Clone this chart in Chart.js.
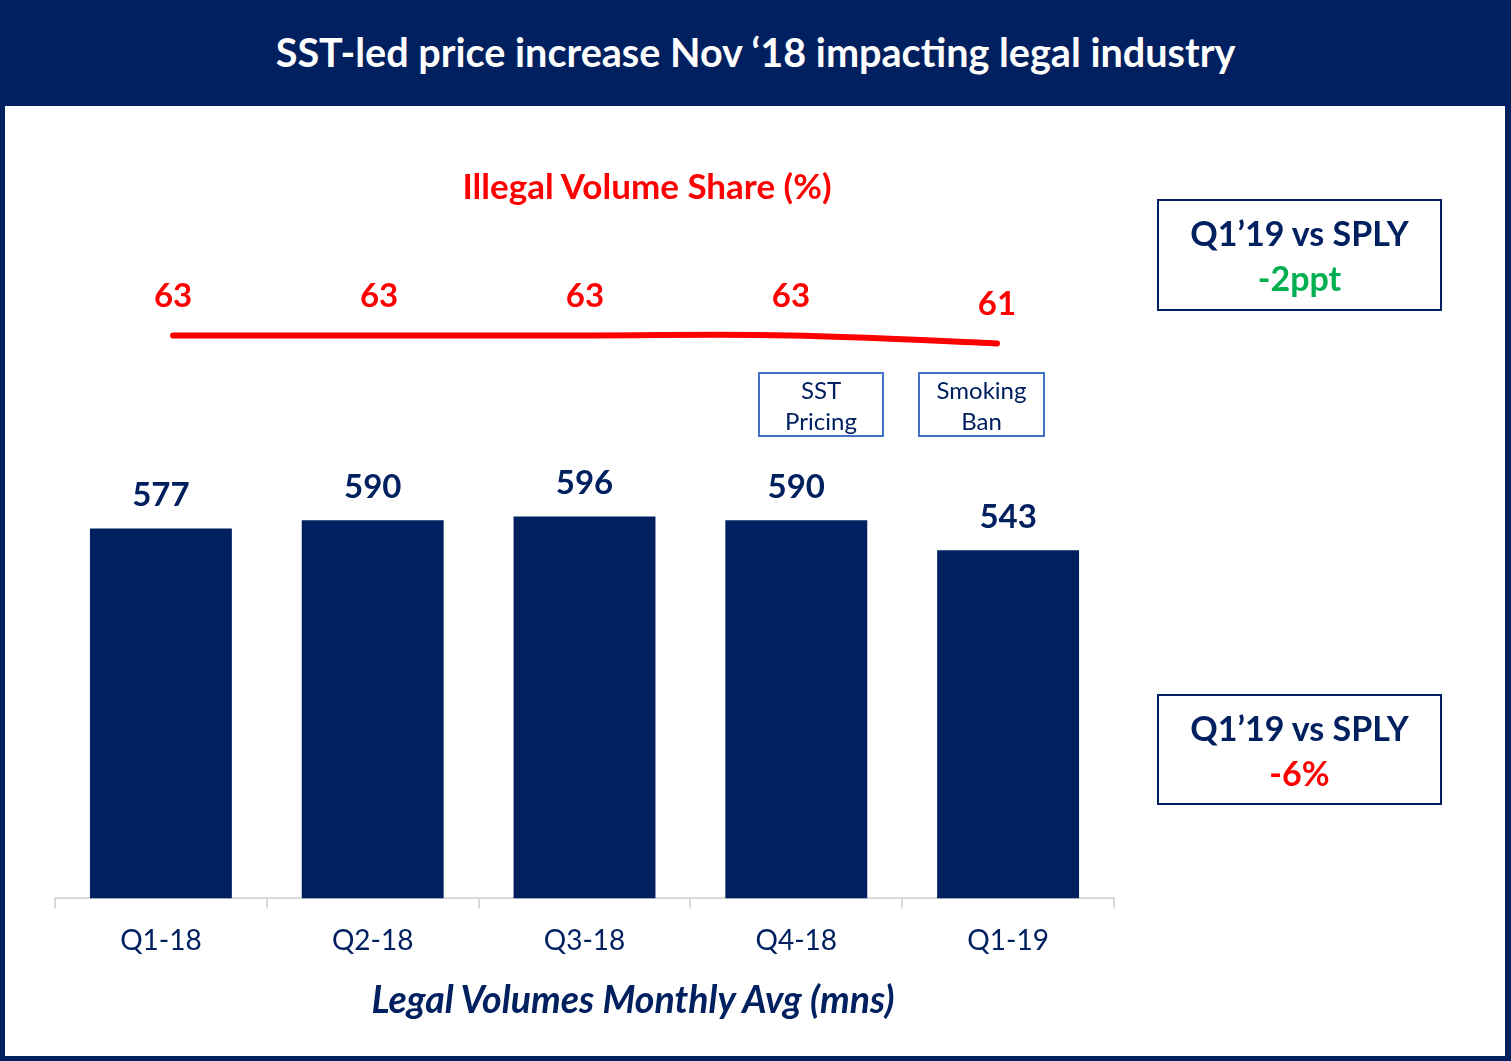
<!DOCTYPE html>
<html><head><meta charset="utf-8">
<script src="https://cdn.jsdelivr.net/npm/chart.js@4/dist/chart.umd.min.js"></script>
<style>
html,body{margin:0;padding:0;}
body{width:1511px;height:1061px;background:#002060;position:relative;overflow:hidden;font-family:Lato,"Open Sans",sans-serif;}
#banner{position:absolute;left:0;top:0;width:1511px;height:106px;color:#fff;font-weight:bold;font-size:39.6px;text-align:center;line-height:104px;}
#panel{position:absolute;left:5px;top:106px;width:1500px;height:950px;background:#fff;}
canvas{position:absolute;left:0;top:0;}
.t{position:absolute;white-space:nowrap;transform:translate(-50%,-50%);}
.box{position:absolute;box-sizing:border-box;text-align:center;}
</style></head>
<body>
<div id="banner">SST-led price increase Nov ‘18 impacting legal industry</div>
<div id="panel"></div>
<canvas id="c" width="1511" height="1061"></canvas>
<div class="t" style="left:647px;top:185px;color:#ff0000;font-weight:bold;font-size:35px;">Illegal Volume Share (%)</div>
<div class="t" style="left:633px;top:998px;color:#002060;font-weight:bold;font-style:italic;font-size:37.5px;">Legal Volumes Monthly Avg (mns)</div>
<div class="box" style="left:758px;top:372px;width:126px;height:65px;border:2px solid #4472c4;color:#002060;font-size:24px;line-height:31px;">SST<br>Pricing</div>
<div class="box" style="left:918px;top:372px;width:127px;height:65px;border:2px solid #4472c4;color:#002060;font-size:24px;line-height:31px;">Smoking<br>Ban</div>
<div class="box" style="left:1157px;top:199px;width:285px;height:112px;border:2px solid #002060;font-weight:bold;font-size:34px;line-height:45px;padding-top:9px;"><span style="color:#002060">Q1’19 vs SPLY</span><br><span style="color:#00b050">-2ppt</span></div>
<div class="box" style="left:1157px;top:694px;width:285px;height:111px;border:2px solid #002060;font-weight:bold;font-size:34px;line-height:45px;padding-top:9px;"><span style="color:#002060">Q1’19 vs SPLY</span><br><span style="color:#ff0000">-6%</span></div>
<script>
const categories = ["Q1-18","Q2-18","Q3-18","Q4-18","Q1-19"];
const legalVolumes = [577,590,596,590,543];
const illegalShare = [63,63,63,63,61];
const NAVY = "#002060", RED = "#ff0000";

const labelPlugin = {
  id:"valueLabels",
  afterDatasetsDraw(chart){
    const ctx = chart.ctx;
    ctx.save();
    ctx.textAlign = "center";
    ctx.textBaseline = "middle";
    ctx.font = "bold 33px Lato, sans-serif";
    chart.getDatasetMeta(0).data.forEach((el,i)=>{
      ctx.fillStyle = NAVY;
      ctx.fillText(String(legalVolumes[i]), el.x, el.y - 33);
    });
    chart.getDatasetMeta(1).data.forEach((el,i)=>{
      ctx.fillStyle = RED;
      ctx.fillText(String(illegalShare[i]), el.x, el.y - 39);
    });
    ctx.restore();
  }
};

new Chart(document.getElementById("c"), {
  data:{
    labels:categories,
    datasets:[
      {type:"bar", data:legalVolumes, backgroundColor:NAVY, barPercentage:0.67, categoryPercentage:1.0, grouped:false, xAxisID:"x", yAxisID:"y"},
      {type:"line", data:illegalShare.map((v,i)=>({x:i,y:v})), borderColor:RED, borderWidth:6, tension:0.4, pointRadius:0, borderCapStyle:"round", fill:false, grouped:false, xAxisID:"x2", yAxisID:"y2"}
    ]
  },
  options:{
    responsive:false, animation:false,
    layout:{padding:{left:55, right:397, top:110, bottom:87}},
    plugins:{legend:{display:false}, tooltip:{enabled:false}},
    scales:{
      x:{type:"category", offset:true,
         grid:{offset:true, drawOnChartArea:false, drawTicks:true, tickLength:10, color:"#d9d9d9", lineWidth:2},
         border:{color:"#d9d9d9", width:2},
         ticks:{color:NAVY, font:{family:"Lato", size:28}, padding:16}},
      x2:{type:"linear", display:false, min:-0.573, max:4.568},
      y:{display:false, min:0, max:1230},
      y2:{display:false, min:-77.5, max:119.25}
    }
  },
  plugins:[labelPlugin]
});
</script>
</body></html>
